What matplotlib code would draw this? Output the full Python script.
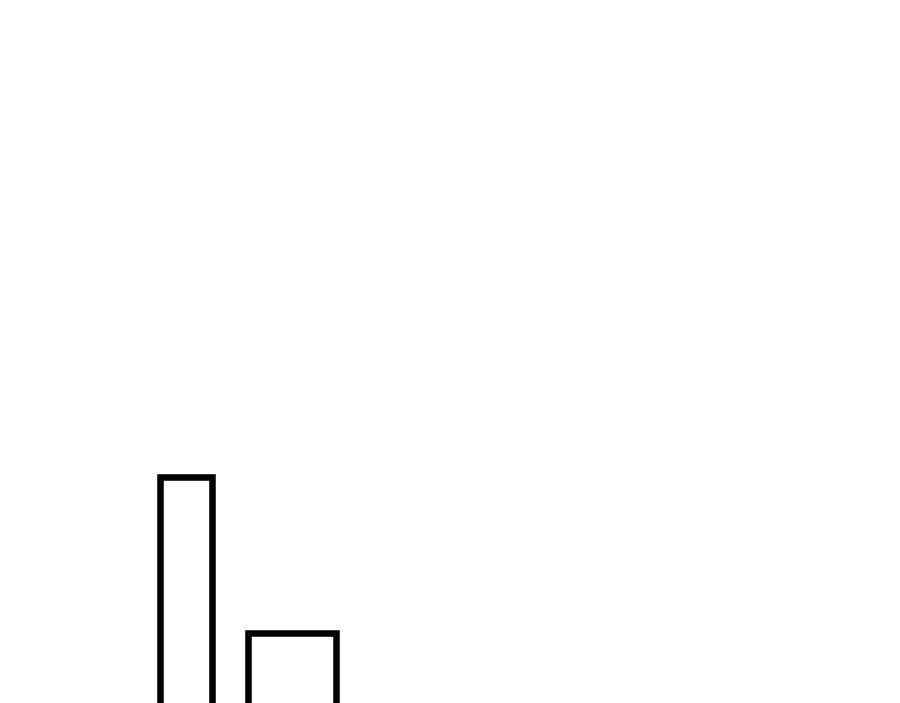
import matplotlib
matplotlib.use("Agg")
import matplotlib.pyplot as plt

# ----------------------------
# Data
# ----------------------------
categories = ["A", "B"]
values = [246, 90]

# ----------------------------
# Layout (pixel-like units)
# ----------------------------
bar_centers = [185.7, 291.9]
bar_widths = [52.3, 87.7]

fig = plt.figure(figsize=(9, 7.03), dpi=100)
ax = fig.add_axes([0, 0, 1, 1])

ax.bar(bar_centers, values, width=bar_widths, fill=False,
       edgecolor="black", linewidth=4.7)

ax.set_xlim(0, 900)
ax.set_ylim(20, 723)
ax.axis("off")

fig.savefig("out.png", dpi=100, facecolor="white")
